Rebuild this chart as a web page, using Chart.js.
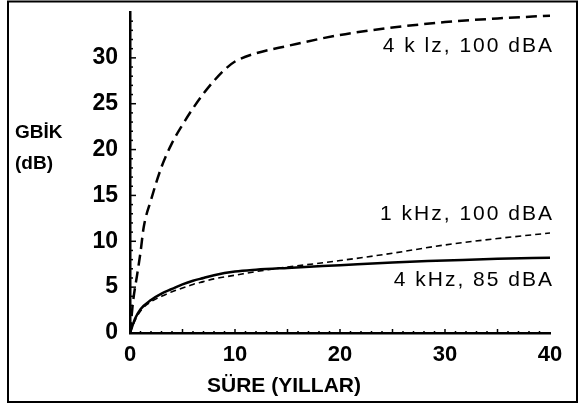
<!DOCTYPE html>
<html>
<head>
<meta charset="utf-8">
<script src="https://cdn.jsdelivr.net/npm/chart.js@4"></script>
<style>
html,body{margin:0;padding:0;background:#fff;}
canvas{display:block;}
</style>
</head>
<body>
<canvas id="c" width="583" height="408"></canvas>
<script>
// Data
const years4k100 = [0, 0.3, 0.7, 1, 1.3, 2, 3, 4, 5, 6, 7, 8, 9, 10, 12, 15, 20, 25, 30, 35, 40];
const loss4k100  = [0, 3.5, 6.5, 8.8, 11.5, 14.5, 18.1, 20.7, 22.7, 24.5, 26.1, 27.5, 28.7, 29.6, 30.5, 31.3, 32.5, 33.3, 33.9, 34.3, 34.6];
const years1k100 = [0, 0.5, 1, 2, 3, 4, 5, 6, 7, 8, 10, 12, 15, 18, 20, 22, 25, 30, 35, 40];
const loss1k100  = [0, 1.4, 2.4, 3.4, 4.0, 4.5, 4.9, 5.3, 5.6, 5.9, 6.3, 6.7, 7.2, 7.6, 7.9, 8.2, 8.7, 9.6, 10.3, 10.9];
const years4k85  = [0, 0.5, 1, 2, 3, 4, 5, 6, 7, 8, 10, 12, 15, 20, 25, 30, 35, 40];
const loss4k85   = [0, 1.6, 2.6, 3.6, 4.3, 4.8, 5.3, 5.7, 6.0, 6.3, 6.7, 6.9, 7.1, 7.4, 7.7, 7.9, 8.1, 8.2];
const xTicks = [0, 10, 20, 30, 40];
const yTicks = [0, 5, 10, 15, 20, 25, 30];
const seriesLabels = ['4 k lz, 100 dBA', '1 kHz, 100 dBA', '4 kHz, 85 dBA'];
const yTitle = ['GBİK', '(dB)'];
const xTitle = 'SÜRE (YILLAR)';

const FONT = '"Liberation Sans", Arial, sans-serif';
const pts = (xs, ys) => xs.map((x, i) => ({x, y: ys[i]}));

const decor = {
  id: 'decor',
  afterDraw(chart) {
    const ctx = chart.ctx;
    const xs = chart.scales.x, ys = chart.scales.y;
    ctx.save();
    // frame
    ctx.strokeStyle = '#000';
    ctx.lineWidth = 2;
    ctx.strokeRect(8, 1.5, 569, 400.5);
    // inner ticks on y axis
    ctx.lineWidth = 1.5;
    const x0 = xs.getPixelForValue(0);
    for (let v = 1; v <= 34; v++) {
      const py = ys.getPixelForValue(v);
      const len = v % 5 === 0 ? 6 : 3;
      ctx.beginPath(); ctx.moveTo(x0, py); ctx.lineTo(x0 + len, py); ctx.stroke();
    }
    // inner ticks on x axis
    const y0 = ys.getPixelForValue(0);
    for (let v = 1; v < 40; v++) {
      const px = xs.getPixelForValue(v);
      const len = v % 5 === 0 ? 4 : 2;
      ctx.beginPath(); ctx.moveTo(px, y0); ctx.lineTo(px, y0 - len); ctx.stroke();
    }
    // titles
    ctx.fillStyle = '#000';
    ctx.font = 'bold 19px ' + FONT;
    ctx.textAlign = 'left';
    ctx.textBaseline = 'middle';
    ctx.fillText(yTitle[0], 15, 133);
    ctx.fillText(yTitle[1], 15, 164);
    ctx.font = 'bold 21px ' + FONT;
    ctx.textAlign = 'center';
    ctx.fillText(xTitle, 284, 386);
    // series labels
    ctx.font = '21px ' + FONT;
    ctx.textAlign = 'right';
    ctx.letterSpacing = '2px';
    const xr = xs.getPixelForValue(40) + 4;
    ctx.fillText(seriesLabels[0], xr, ys.getPixelForValue(31.3));
    ctx.fillText(seriesLabels[1], xr, ys.getPixelForValue(12.9));
    ctx.fillText(seriesLabels[2], xr, ys.getPixelForValue(5.8));
    ctx.restore();
  }
};

new Chart(document.getElementById('c'), {
  type: 'line',
  data: {
    datasets: [
      {label: seriesLabels[0], data: pts(years4k100, loss4k100), borderColor: '#000', borderWidth: 2.5, borderDash: [11, 6], pointRadius: 0, cubicInterpolationMode: 'monotone', fill: false},
      {label: seriesLabels[1], data: pts(years1k100, loss1k100), borderColor: '#000', borderWidth: 1.6, borderDash: [6, 4], pointRadius: 0, cubicInterpolationMode: 'monotone', fill: false},
      {label: seriesLabels[2], data: pts(years4k85, loss4k85), borderColor: '#000', borderWidth: 2.5, pointRadius: 0, cubicInterpolationMode: 'monotone', fill: false}
    ]
  },
  options: {
    responsive: false,
    animation: false,
    layout: {padding: {left: 0, top: 12, right: 33, bottom: 0}},
    plugins: {legend: {display: false}, tooltip: {enabled: false}},
    scales: {
      x: {
        type: 'linear', min: 0, max: 40,
        afterBuildTicks: s => { s.ticks = xTicks.map(v => ({value: v})); },
        afterFit: s => { s.height = 75; s.paddingLeft = 0; s.paddingRight = 0; },
        grid: {display: true, drawOnChartArea: false, drawTicks: false},
        border: {display: true, color: '#000', width: 2.5},
        ticks: {color: '#000', padding: 9, maxRotation: 0, font: {family: FONT, size: 22, weight: 'bold'}}
      },
      y: {
        type: 'linear', min: 0, max: 35,
        afterBuildTicks: s => { s.ticks = yTicks.map(v => ({value: v})); },
        afterFit: s => { s.width = 130; s.paddingTop = 0; s.paddingBottom = 0; },
        grid: {display: true, drawOnChartArea: false, drawTicks: false},
        border: {display: true, color: '#000', width: 2.5},
        ticks: {color: '#000', padding: 12, font: {family: FONT, size: 23, weight: 'bold'}}
      }
    }
  },
  plugins: [decor]
});
</script>
</body>
</html>
